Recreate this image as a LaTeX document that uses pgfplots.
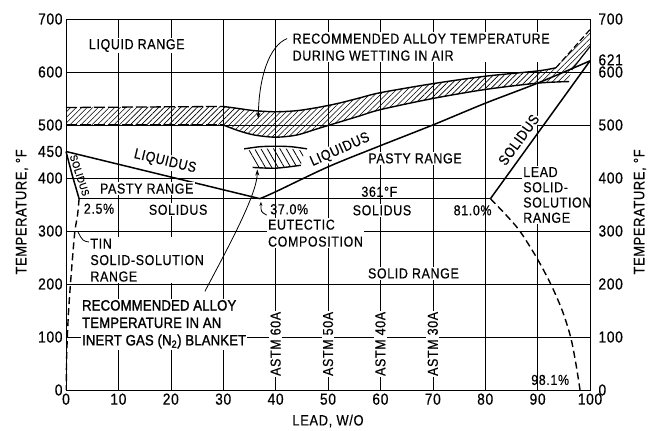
\documentclass[border=0pt]{standalone}
\usepackage{fontspec}
\setmainfont[LetterSpace=4.5, FakeStretch=0.86, FakeBold=0.4]{Liberation Sans}
\newfontfamily\boldish[LetterSpace=1, FakeStretch=0.88, FakeBold=1.4]{Liberation Sans}
\usepackage{pgfplots}
\pgfplotsset{compat=1.18}
\usetikzlibrary{patterns,patterns.meta,arrows.meta}
\tikzset{
  lab/.style={font=\fontsize{14.5}{17}\selectfont, inner sep=1.2bp, fill=white, align=left},
  labn/.style={font=\fontsize{14.5}{17}\selectfont, inner sep=1.2bp, align=left},
  arr/.style={line width=0.8bp, -{Stealth[length=6bp,width=4bp]}},
}
\begin{document}
\begin{tikzpicture}
\begin{axis}[
  name=main, scale only axis, width=524bp, height=371bp,
  xmin=0, xmax=100, ymin=0, ymax=700,
  xtick={0,10,...,100}, ytick={0,100,200,300,400,500,600,700},
  extra y ticks={450}, extra y tick style={grid=none},
  grid=major, major grid style={black, line width=0.55bp},
  axis line style={line width=0.9bp},
  major tick length=0pt,
  every tick label/.append style={font=\fontsize{16}{16}\selectfont},
  /pgf/number format/assume math mode=true,
  clip=false,
]
% ---- hatched band: recommended temperature during wetting in air
\addplot[draw=none, pattern={Lines[angle=45,distance=3.9pt,line width=0.6pt]}] coordinates {
 (0,533) (30,535) (33,531) (36,527) (40,525) (44,527) (48,533) (52,541) (56,551)
 (60,561) (70,578) (80,592) (90,602) (93.5,608) (100,680) (100,648) (96.5,606) (96,582)
 (90,579) (80,567) (70,550) (60,529) (56,517) (52,505) (48,493) (44,481) (40,477)
 (36,481) (33,489) (30,500) (0,500)} -- cycle;
\addplot[black, line width=1.3bp, dash pattern=on 11bp off 3bp] coordinates {(0,533) (30,535)};
\addplot[black, line width=1.3bp, dash pattern=on 11bp off 3bp] coordinates {(0,500) (30,500)};
\addplot[black, line width=1.4bp, smooth] coordinates {
 (30,535) (33,531) (36,527) (40,525) (44,527) (48,533) (52,541) (56,551)
 (60,561) (70,578) (80,592) (90,602) (93.5,608)};
\addplot[black, line width=1.4bp, smooth] coordinates {
 (30,500) (33,489) (36,481) (40,477) (44,481) (48,493) (52,505) (56,517)
 (60,529) (70,550) (80,567) (90,579) (96,582)};
\addplot[black, line width=1.2bp, dash pattern=on 6bp off 3bp] coordinates {(93.5,608) (100,680)};
\addplot[black, line width=1.2bp] coordinates {(96.5,604) (100,648)};
% ---- hatched band: recommended temperature in inert gas blanket
\addplot[draw=none, pattern={Lines[angle=-60,distance=5.5pt,line width=0.8pt]}] coordinates {
 (34.8,452) (37,455) (40,456) (43,455) (45.5,451) (44.8,424) (42,420) (40,419) (37,419) (35.8,420)} -- cycle;
\addplot[black, line width=1.4bp, smooth] coordinates {(34,455) (37,459) (40,460) (43,459) (46,455)};
\addplot[black, line width=1.4bp, smooth] coordinates {(35.6,420) (40,418.5) (44.8,424)};
% ---- phase lines
\addplot[black, line width=1.5bp] coordinates {(0,450) (37,361)};
\addplot[black, line width=1.5bp, smooth] coordinates {(37,361) (40,374) (50,421) (60,461) (70,500) (80,541) (90,579) (100,621)};
\addplot[black, line width=1.5bp] coordinates {(2.5,361) (81,361)};
\addplot[black, line width=1.5bp] coordinates {(0,450) (1.2,405) (2.5,361)};
\addplot[black, line width=1.5bp] coordinates {(81,361) (100,621)};
\addplot[black, line width=1.4bp, dash pattern=on 7bp off 4bp, smooth] coordinates {
 (2.5,361) (2.2,330) (1.7,300) (1.25,250) (0.85,200) (0.5,150) (0.25,100) (0.1,50) (0.05,0)};
\addplot[black, line width=1.4bp, dash pattern=on 7bp off 4bp, smooth] coordinates {
 (81,361) (84,330) (86.6,300) (89.8,250) (92.5,200) (94.7,150) (96.3,100) (97.3,50) (98.1,0)};
% ---- arrows
\draw[arr] (axis cs:42.2,663) .. controls (axis cs:38.8,650) and (axis cs:36.8,590) .. (axis cs:36.7,512);
\draw[arr] (axis cs:26.5,186) .. controls (axis cs:31,270) and (axis cs:36.5,370) .. (axis cs:36.5,416);
\draw[line width=0.8bp, -{Stealth[length=4bp,width=3bp]}] (axis cs:38.3,330) .. controls (axis cs:37.2,336) .. (axis cs:37.2,355);
\draw[line width=0.8bp] (axis cs:4.6,279) .. controls (axis cs:3.2,281) .. (axis cs:2.3,298);
% ---- labels
\node[lab] at (axis cs:13.5,650) {LIQUID RANGE};
\node[lab, anchor=west] at (axis cs:43.0,647) {RECOMMENDED ALLOY TEMPERATURE\\DURING WETTING IN AIR};
\node[lab, rotate=-13.5] at (axis cs:18.9,431) {LIQUIDUS};
\node[lab, rotate=24] at (axis cs:52.3,453) {LIQUIDUS};
\node[lab] at (axis cs:15.4,380) {PASTY RANGE};
\node[lab] at (axis cs:66.6,437) {PASTY RANGE};
\node[labn, rotate=-72, font=\fontsize{10.5}{10.5}\selectfont, inner sep=0pt] at (axis cs:2.6,405) {SOLIDUS};
\node[labn] at (axis cs:6.3,342) {2.5\%};
\node[lab] at (axis cs:21.4,340) {SOLIDUS};
\node[labn] at (axis cs:42.6,341) {37.0\%};
\node[labn, anchor=south, inner sep=1bp] at (axis cs:59.8,362) {361°F};
\node[lab] at (axis cs:60.3,339) {SOLIDUS};
\node[labn] at (axis cs:77.6,339) {81.0\%};
\node[lab, rotate=54] at (axis cs:86.4,472) {SOLIDUS};
\node[lab, anchor=west, font=\fontsize{14.5}{15.3}\selectfont] at (axis cs:87.0,368) {LEAD\\SOLID-\\SOLUTION\\RANGE};
\node[lab, anchor=west, font=\fontsize{14.5}{16.5}\selectfont] at (axis cs:4.4,245) {TIN\\SOLID-SOLUTION\\RANGE};
\node[lab, anchor=west, font=\fontsize{14.5}{17}\selectfont] at (axis cs:38.3,296) {EUTECTIC\\COMPOSITION};
\node[lab] at (axis cs:66.3,220) {SOLID RANGE};
\node[lab, anchor=west, font=\boldish\fontsize{15}{17.5}\selectfont] at (axis cs:2.8,124) {RECOMMENDED ALLOY\\TEMPERATURE IN AN\\INERT GAS (N\textsubscript{2}) BLANKET};
\node[lab, rotate=90] at (axis cs:40,87) {ASTM 60A};
\node[lab, rotate=90] at (axis cs:50,87) {ASTM 50A};
\node[lab, rotate=90] at (axis cs:60,87) {ASTM 40A};
\node[lab, rotate=90] at (axis cs:70,87) {ASTM 30A};
\node[labn] at (axis cs:92.4,19) {98.1\%};
% axis labels
\node[xshift=-44bp, rotate=90, font=\fontsize{15}{15}\selectfont] at (rel axis cs:0,0.48) {TEMPERATURE, °F};
\node[xshift=50bp, rotate=90, font=\fontsize{15}{15}\selectfont] at (rel axis cs:1,0.48) {TEMPERATURE, °F};
\node[yshift=-31bp, font=\fontsize{15}{15}\selectfont] at (rel axis cs:0.5,0) {LEAD, W/O};
\coordinate (BL) at (rel axis cs:0,0);
\coordinate (TR) at (rel axis cs:1,1);
\end{axis}
\begin{axis}[
  scale only axis, width=524bp, height=371bp,
  xmin=0, xmax=100, ymin=0, ymax=700,
  axis x line=none, axis y line*=right,
  ytick={0,100,200,300,400,500,700},
  extra y ticks={600,621},
  extra y tick labels={{\raisebox{-3.5bp}{600}},{\raisebox{2bp}{621}}},
  major tick length=0pt,
  axis line style={line width=0.9bp},
  every tick label/.append style={font=\fontsize{16}{16}\selectfont},
  yticklabel style={xshift=5bp},
  /pgf/number format/assume math mode=true,
]
\addplot[draw=none] coordinates {(0,0)};
\end{axis}
\pgfresetboundingbox
\path ([shift={(-66bp,-41bp)}]BL) rectangle ([shift={(64bp,19bp)}]TR);
\end{tikzpicture}
\end{document}
